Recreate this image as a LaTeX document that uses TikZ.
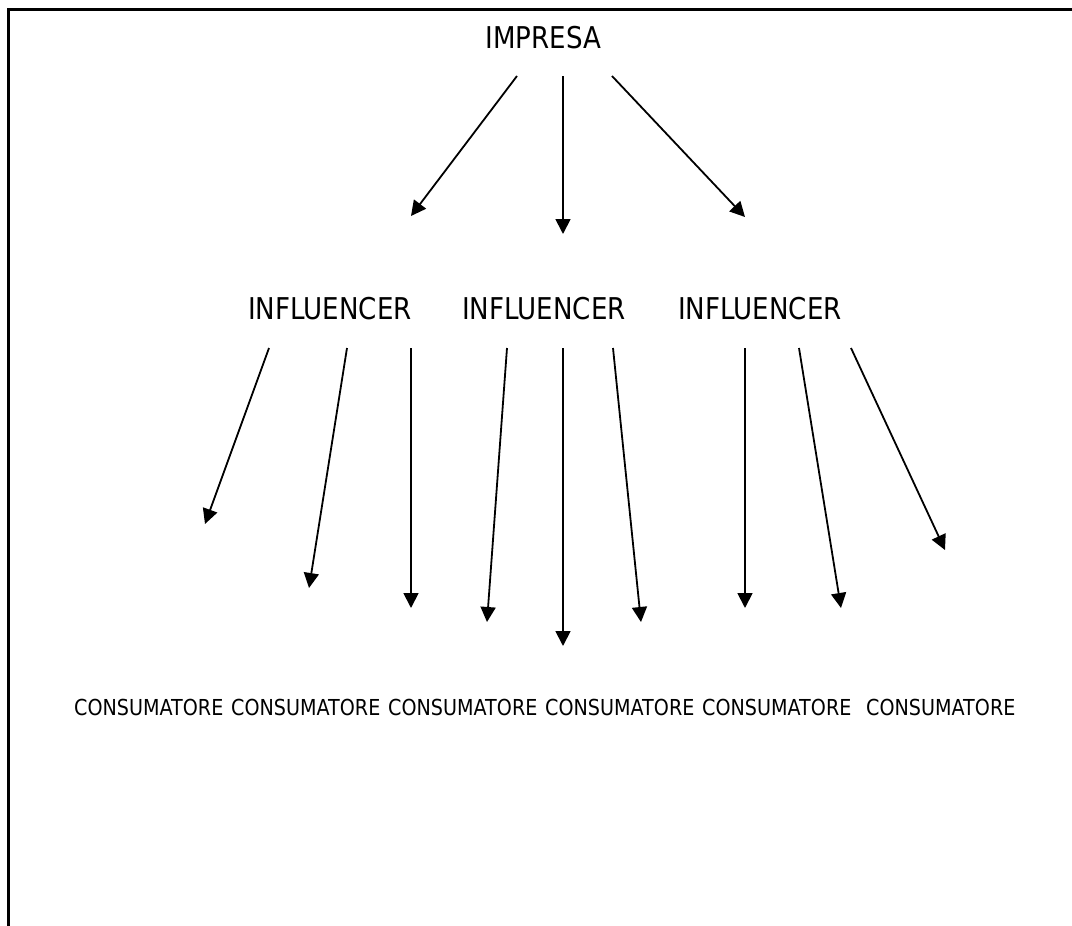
\documentclass[tikz,border=0pt]{standalone}
\usepackage{fontspec}
\setmainfont{DejaVu Sans}[FakeStretch=0.87]
\usetikzlibrary{arrows.meta}
\begin{document}
\begin{tikzpicture}[x=1pt,y=-1pt,
  frameline/.style={line width=3pt,line cap=rect},
  link/.style={line width=1.8pt,-{Triangle[length=15pt,width=15pt]}},
  bigtext/.style={inner sep=0pt,anchor=base,font=\fontsize{30}{36}\selectfont},
  smalltext/.style={inner sep=0pt,anchor=base west,font=\fontsize{22}{26}\selectfont}]
\useasboundingbox (0,0) rectangle (1072,926);
% open frame: top and left edges only
\draw[frameline] (1072,9) -- (8,9) -- (8,930);

% labels
\node[bigtext] (imp) at (543.5,48) {IMPRESA};
\node[bigtext] (inf1) at (330,319) {INFLUENCER};
\node[bigtext] (inf2) at (544,319) {INFLUENCER};
\node[bigtext] (inf3) at (760,319) {INFLUENCER};

\node[smalltext] (c1) at (74,715) {CONSUMATORE};
\node[smalltext] (c2) at (231,715) {CONSUMATORE};
\node[smalltext] (c3) at (388,715) {CONSUMATORE};
\node[smalltext] (c4) at (545,715) {CONSUMATORE};
\node[smalltext] (c5) at (702,715) {CONSUMATORE};
\node[smalltext] (c6) at (866,715) {CONSUMATORE};

% arrow ends: company to influencers
\coordinate (ia) at (517,76);  \coordinate (ta) at (411,216);
\coordinate (ib) at (563,76);  \coordinate (tb) at (563,234);
\coordinate (ic) at (612,76);  \coordinate (tc) at (745,217);
\draw[link] (ia) -- (ta);
\draw[link] (ib) -- (tb);
\draw[link] (ic) -- (tc);

% arrow ends: influencers to consumers
\coordinate (s1) at (269,348); \coordinate (e1) at (205,524);
\coordinate (s2) at (347,348); \coordinate (e2) at (309,588);
\coordinate (s3) at (411,348); \coordinate (e3) at (411,608);
\coordinate (s4) at (507,348); \coordinate (e4) at (487,622);
\coordinate (s5) at (563,348); \coordinate (e5) at (563,646);
\coordinate (s6) at (613,348); \coordinate (e6) at (641,622);
\coordinate (s7) at (745,348); \coordinate (e7) at (745,608);
\coordinate (s8) at (799,348); \coordinate (e8) at (841,608);
\coordinate (s9) at (851,348); \coordinate (e9) at (945,550);
\foreach \i in {1,...,9} \draw[link] (s\i) -- (e\i);
\end{tikzpicture}
\end{document}
